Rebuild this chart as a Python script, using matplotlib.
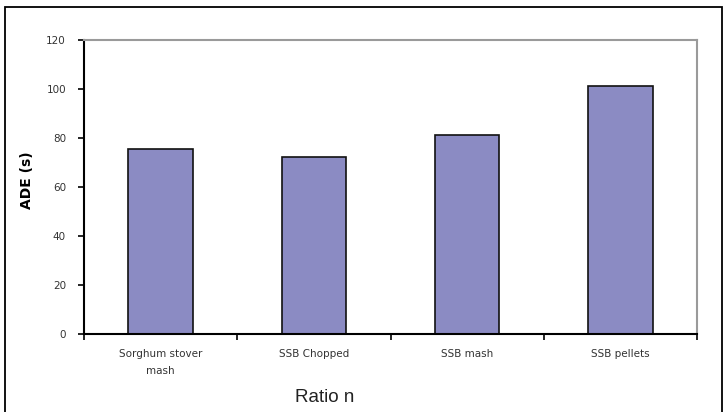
import numpy as np
import matplotlib
matplotlib.use("Agg")
import matplotlib.pyplot as plt
from matplotlib.patches import Rectangle

categories = ["Sorghum stover\nmash", "SSB Chopped", "SSB mash", "SSB pellets"]
ade_values = [75.5, 72.3, 81.4, 101.1]
y_ticks = [0, 20, 40, 60, 80, 100, 120]

W, H = 726, 412
fig = plt.figure(figsize=(W / 100, H / 100), dpi=100)
fig.patch.set_facecolor("white")

# outer frame (bottom edge runs off the picture)
fig.patches.append(Rectangle((5 / W, -0.05), 717 / W, (H - 7) / H + 0.05,
                             transform=fig.transFigure, fill=False,
                             edgecolor="black", linewidth=1.3))

ax = fig.add_axes([84 / W, (H - 334) / H, 613 / W, 294 / H])
x = np.arange(len(categories))
ax.bar(x, ade_values, width=0.42, color="#8b8bc3", edgecolor="#111111", linewidth=1.2)

ax.set_xlim(-0.5, len(categories) - 0.5)
ax.set_ylim(0, 120)
ax.set_yticks(y_ticks)
ax.set_yticklabels([str(v) for v in y_ticks], fontsize=7.5, color="#333333")

ax.set_xticks(np.arange(len(categories) + 1) - 0.5)
ax.set_xticklabels([])
ax.set_xticks(x, minor=True)
ax.set_xticklabels(categories, minor=True, fontsize=7.5, color="#333333", linespacing=1.9)
ax.tick_params(axis="x", which="major", direction="out", length=4, width=1.2)
ax.tick_params(axis="x", which="minor", length=0, pad=11)
ax.tick_params(axis="y", direction="out", length=4, width=1.2, pad=9)

for side in ["left", "bottom"]:
    ax.spines[side].set_color("black")
    ax.spines[side].set_linewidth(1.5)
for side in ["top", "right"]:
    ax.spines[side].set_color("#9a9a9a")
    ax.spines[side].set_linewidth(1.5)

fig.text(27 / W, 1 - 180 / H, "ADE (s)", rotation=90, ha="center", va="center",
         fontsize=10, fontweight="bold")
fig.text(325 / W, 1 - 398 / H, "Ratio n", ha="center", va="center",
         fontsize=13.5, family="Liberation Sans", color="#222222")

fig.savefig("out.png", dpi=100)
